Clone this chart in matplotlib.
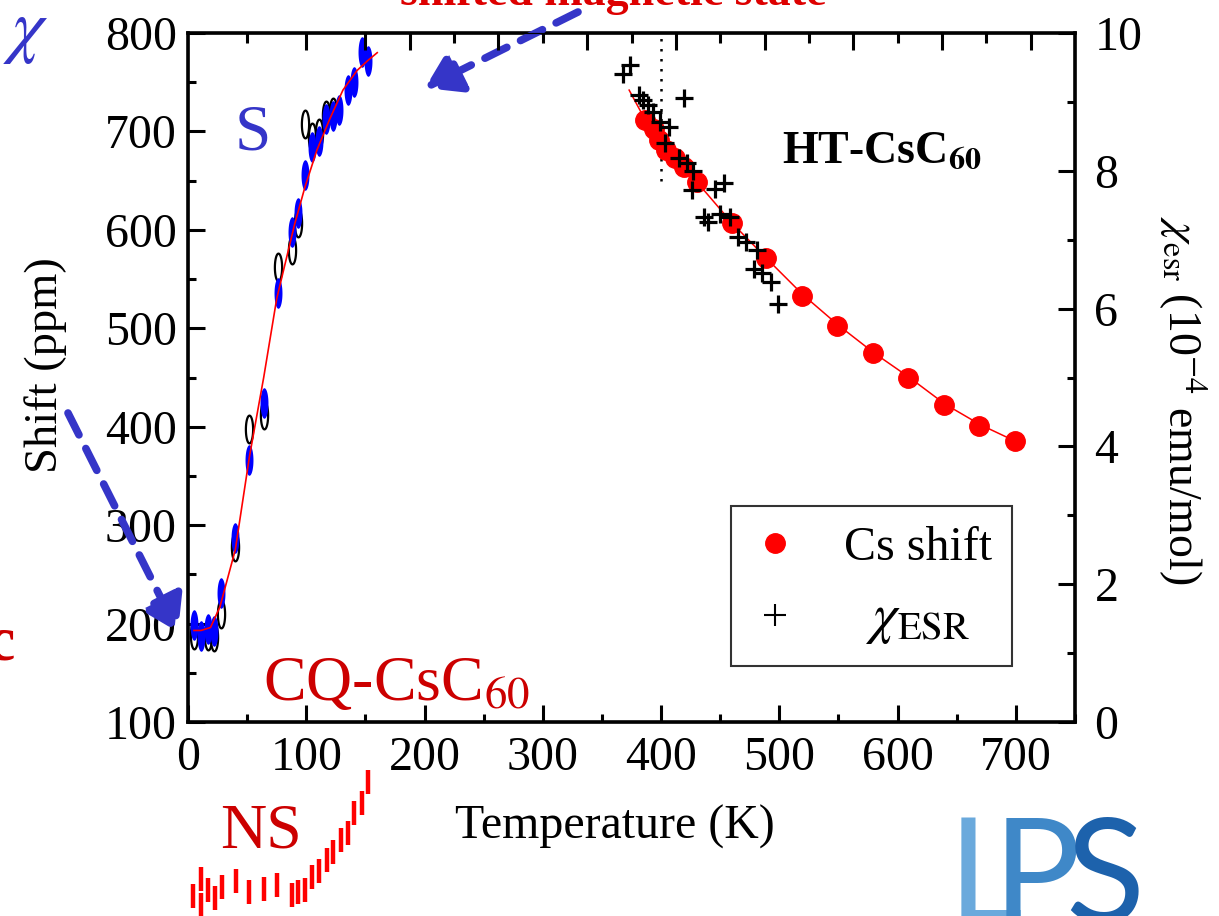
"""Cs NMR shift of CQ-CsC60 and HT-CsC60 versus temperature,
with the ESR susceptibility on the right axis"""

import numpy as np
import matplotlib
matplotlib.use("Agg")
import matplotlib.pyplot as plt
from matplotlib.path import Path
from matplotlib.lines import Line2D
from matplotlib.ticker import MultipleLocator

plt.rcParams['font.family'] = 'Liberation Serif'
plt.rcParams['mathtext.fontset'] = 'stix'

# CQ-CsC60, shifted line S (blue run and black run)
s_temp_blue = [5, 11, 17, 22, 28, 40, 52, 64, 76, 88, 93, 99, 105, 111,
               117, 123, 128, 135, 140, 147, 152]
s_shift_blue = [199, 187, 194, 192, 231, 287, 366, 424, 536, 598, 617, 656,
                684, 690, 713, 716, 722, 742, 750, 781, 772]
s_temp_black = [5, 17, 22, 28, 40, 52, 64, 76, 88, 93, 99, 105, 111, 117, 123]
s_shift_black = [188, 187, 186, 210, 278, 398, 412, 562, 580, 607, 708, 694,
                 698, 717, 720]
s_fit_temp = [5, 11, 19, 27, 40, 52, 64, 75, 90, 99, 109, 120, 131, 143, 152, 160]
s_fit_shift = [193, 193, 196, 217, 275, 370, 450, 530, 605, 644, 681, 713,
               742, 762, 772, 780]

# CQ-CsC60, non shifted line NS (arbitrary units)
ns_temp = [4.5, 11, 11, 16.7, 22.8, 28.5, 40.6, 51.8, 64.2, 75.5, 87.7, 93.2,
           98.9, 105.1, 111, 117.2, 122.8, 129.3, 135, 140.6, 146.8, 152.4]
ns_shift = [12.9, 23.7, 7.1, 16.7, 11.5, 18.3, 22.4, 15.4, 17.5, 20.1, 13.5,
            15.5, 16.7, 24.7, 28.8, 35.9, 41.2, 48.7, 53.2, 66, 72.4, 86]

# HT-CsC60
cs_temp = [386, 394, 398, 404, 412, 419, 430, 460, 489, 519, 549, 579, 609,
           639, 669, 699]
cs_shift = [712, 702, 691, 681, 673, 664, 649, 607, 571, 533, 502, 475, 450,
            422, 401, 385]
cs_fit_temp = [373, 386, 400, 430, 460, 490, 520, 550, 580, 610, 640, 670, 700]
cs_fit_shift = [742, 713, 688, 649, 607, 570, 534, 503, 475, 450, 423, 402, 385]
esr_temp = [368, 374, 381, 385, 389, 393, 399, 403, 407, 415, 419, 422, 426,
            427, 436, 440, 446, 450, 453, 458, 465, 472, 479, 481, 485, 493, 499]
esr_chi = [9.41, 9.54, 9.10, 9.03, 8.95, 8.86, 8.71, 8.40, 8.64, 8.18, 9.05,
           8.11, 7.72, 7.99, 7.33, 7.26, 7.74, 7.38, 7.82, 7.33, 7.04, 6.97,
           6.58, 6.85, 6.51, 6.39, 6.07]

W, H = 1219, 916
BLUE_TXT = '#3535c8'
DARK_RED = '#cc0000'

def fx(x):
    return x / W

def fy(y):
    return 1 - y / H

# tall narrow ellipse used as marker for the S line
t = np.linspace(0, 2 * np.pi, 60)
ellipse = Path(np.column_stack([0.26 * np.cos(t), np.sin(t)]), closed=True)

fig = plt.figure(figsize=(W / 100, H / 100), dpi=100)
ax = fig.add_axes([fx(188), 194 / H, 887 / W, 689 / H])

ax.plot(s_temp_black, s_shift_black, ls='none', marker=ellipse, ms=20,
        mfc='white', mec='black', mew=1.6, zorder=2)
ax.plot(s_temp_blue, s_shift_blue, ls='none', marker=ellipse, ms=22,
        mfc='#0000ff', mec='#0000ff', mew=0, zorder=3)
ax.plot(s_fit_temp, s_fit_shift, color='red', lw=1.2, zorder=4)

ax.plot(cs_fit_temp, cs_fit_shift, color='red', lw=1.1, zorder=2)
ax.plot(cs_temp, cs_shift, ls='none', marker='o', ms=14,
        mfc='red', mec='red', zorder=3)
ax.plot([400, 400], [650, 795], ls=(0, (1, 3)), color='black', lw=1.8)

ax.set_xlim(0, 750)
ax.set_ylim(100, 800)
ax.xaxis.set_major_locator(MultipleLocator(100))
ax.xaxis.set_minor_locator(MultipleLocator(50))
ax.yaxis.set_major_locator(MultipleLocator(100))
ax.yaxis.set_minor_locator(MultipleLocator(50))
ax.tick_params(which='major', direction='in', length=12, width=2.2,
               labelsize=34.5, right=False, top=False)
ax.tick_params(which='minor', direction='in', length=6, width=2.2,
               right=False, top=False)
ax.tick_params(axis='x', pad=10)
ax.tick_params(axis='y', pad=8)
for sp in ax.spines.values():
    sp.set_linewidth(2.6)

ax.set_xlabel('Temperature (K)', fontsize=34.5)
ax.xaxis.set_label_coords(0.481, -0.12)
ax.set_ylabel('Shift (ppm)', fontsize=33.5)
ax.yaxis.set_label_coords(-0.136, 0.518)

# top axis ticks
axt = ax.twiny()
axt.set_xlim(0, 750)
axt.set_xticks([100, 150, 187.5, 262.5, 337.5, 412.5, 487.5, 562.5, 637.5, 712.5])
axt.set_xticks([50, 225, 300, 375, 450, 525, 600, 675], minor=True)
axt.tick_params(which='major', direction='in', length=12, width=2.2,
                labeltop=False)
axt.tick_params(which='minor', direction='in', length=7, width=2.2)

# ESR susceptibility on right axis
ax2 = ax.twinx()
ax2.plot(esr_temp, esr_chi, ls='none', marker='+', ms=13,
         mew=2.3, color='black', zorder=5)
ax2.set_ylim(0, 10)
ax2.yaxis.set_major_locator(MultipleLocator(2))
ax2.yaxis.set_minor_locator(MultipleLocator(1))
ax2.tick_params(which='major', direction='in', length=12, width=2.2,
                labelsize=34.5, pad=14)
ax2.tick_params(which='minor', direction='in', length=6, width=2.2)
ax2.set_ylabel(r'$\chi_{\rm esr}$ (10$^{-4}$ emu/mol)', fontsize=33,
               rotation=270)
ax2.yaxis.set_label_coords(1.15, 0.467)

leg_circle = Line2D([], [], ls='none', marker='o', ms=14, mfc='red', mec='red')
leg_cross = Line2D([], [], ls='none', marker='+', ms=16, mew=1.5, color='black')
leg = ax2.legend([leg_circle, leg_cross], ['Cs shift', r'  $\chi_{\rm ESR}$'],
                 loc='center', bbox_to_anchor=(0.7706, 0.1974),
                 fontsize=34.5, frameon=True, fancybox=False,
                 borderpad=0.42, handlelength=1.0, handletextpad=0.95,
                 labelspacing=0.45)
leg.get_texts()[1].set_fontsize(40)
leg.get_frame().set_edgecolor('black')
leg.get_frame().set_linewidth(1.5)

# NS line drawn below the main frame on the same temperature scale
nsax = fig.add_axes([fx(188), 0, 887 / W, 156 / H])
nsax.set_xlim(0, 750)
nsax.set_ylim(0, 100)
nsax.axis('off')
nsax.plot(ns_temp, ns_shift, ls='none', marker='|', ms=17, mew=3.2,
          color='#ff0000')

# labels around the plot
fig.text(fx(782), fy(163), r'HT-CsC$_{\mathbf{60}}$', fontsize=33,
         fontweight='bold', va='baseline', ha='left')
fig.text(fx(263), fy(700), r'CQ-CsC$_{60}$', fontsize=46, color=DARK_RED,
         va='baseline', ha='left')
fig.text(fx(220), fy(848), 'NS', fontsize=46, color=DARK_RED,
         va='baseline', ha='left')
fig.text(fx(253), fy(134), 'S', fontsize=47, color=BLUE_TXT,
         va='center', ha='center')
fig.text(fx(26), fy(33), r'$\chi$', fontsize=52, color=BLUE_TXT,
         va='center', ha='center')
fig.text(fx(15), fy(660), 'c', fontsize=46, color=DARK_RED,
         fontweight='bold', va='baseline', ha='right')
fig.text(fx(613), fy(5), 'shifted magnetic state', fontsize=33,
         color='#dd0000', fontweight='bold', va='baseline', ha='center')

# LPS logo, letters shaded from light to dark blue
for letter, xc, col in [('L', 985, '#6aa9dc'), ('P', 1037, '#3f88c8'),
                        ('S', 1105, '#1d62ac')]:
    fig.text(fx(xc), fy(815), letter, fontsize=105, family='Lato',
             color=col, va='top', ha='center')

# dashed pointers to the two ends of the S curve
arrow = dict(arrowstyle='-|>,head_length=0.7,head_width=0.45',
             mutation_scale=30, lw=5.5, ls=(0, (3.2, 2)), color=BLUE_TXT,
             shrinkA=0, shrinkB=0)
ax.annotate('', xy=(425, H - 88), xycoords='figure pixels',
            xytext=(578, H - 12), textcoords='figure pixels',
            arrowprops=arrow, annotation_clip=False)
ax.annotate('', xy=(178, H - 632), xycoords='figure pixels',
            xytext=(68, H - 413), textcoords='figure pixels',
            arrowprops=arrow, annotation_clip=False)

plt.savefig('out.png', dpi=100, facecolor='white')
plt.close()
